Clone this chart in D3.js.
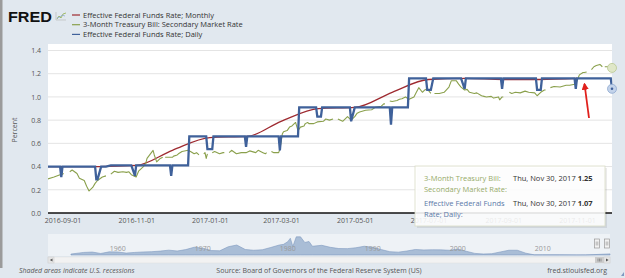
<!DOCTYPE html>
<html lang="en">
<head>
  <meta charset="utf-8">
  <title>FRED - Fed Funds vs 3-Month T-Bill</title>
  <style>
    body {
      margin:0;
      background-color:#e1e8ef;
      font-family:"Open Sans", sans-serif;
    }
    svg { display:block; }
    .axis .domain { display:none; }
    .axis text { fill:#555; font-size:7px; font-family:"Open Sans", sans-serif; }
    .legend text { fill:#333; font-size:7.5px; }
    .foot { fill:#555; font-size:7px; }
    .tip { font-size:7.5px; }
  </style>
</head>
<body>
  <svg id="chart" width="625" height="278"></svg>
  <script src="https://d3js.org/d3.v7.min.js"></script>
  <script>
    // series
    var effrMonthly = [
      ["2016-08-01",0.40],["2016-09-01",0.40],["2016-10-01",0.40],["2016-11-01",0.41],
      ["2016-12-01",0.54],["2017-01-01",0.65],["2017-02-01",0.66],["2017-03-01",0.79],
      ["2017-04-01",0.90],["2017-05-01",0.91],["2017-06-01",1.04],["2017-07-01",1.15],
      ["2017-08-01",1.16],["2017-09-01",1.15],["2017-10-01",1.15],["2017-11-01",1.16]
    ];

    var effrDaily = [
      ["2016-08-19",0.40],["2016-08-30",0.40],["2016-08-31",0.31],["2016-09-01",0.40],
      ["2016-09-28",0.40],["2016-09-29",0.29],["2016-09-30",0.29],["2016-10-03",0.40],
      ["2016-10-07",0.40],["2016-10-11",0.41],
      ["2016-10-28",0.41],["2016-10-31",0.32],["2016-11-01",0.41],
      ["2016-11-29",0.41],["2016-11-30",0.32],["2016-12-01",0.41],
      ["2016-12-14",0.41],["2016-12-15",0.66],
      ["2016-12-29",0.66],["2016-12-30",0.55],["2017-01-03",0.55],["2017-01-04",0.66],
      ["2017-01-30",0.66],["2017-01-31",0.57],["2017-02-01",0.66],
      ["2017-02-27",0.66],["2017-02-28",0.54],["2017-03-01",0.66],
      ["2017-03-15",0.66],["2017-03-16",0.91],
      ["2017-03-30",0.91],["2017-03-31",0.83],["2017-04-03",0.83],["2017-04-04",0.91],
      ["2017-04-27",0.91],["2017-04-28",0.79],["2017-05-01",0.91],
      ["2017-05-30",0.91],["2017-05-31",0.76],["2017-06-01",0.91],
      ["2017-06-14",0.91],["2017-06-15",1.16],
      ["2017-06-29",1.16],["2017-06-30",1.06],["2017-07-03",1.06],["2017-07-05",1.16],
      ["2017-07-28",1.16],["2017-07-31",1.07],["2017-08-01",1.16],
      ["2017-08-30",1.16],["2017-08-31",1.07],["2017-09-01",1.16],
      ["2017-09-28",1.16],["2017-09-29",1.06],["2017-10-02",1.06],["2017-10-03",1.16],
      ["2017-10-30",1.16],["2017-10-31",1.07],["2017-11-01",1.16],
      ["2017-11-29",1.16],["2017-11-30",1.07]
    ];

    // null = market holiday (gap in the line)
    var tbill3m = [
      ["2016-08-19",0.29],["2016-08-25",0.31],["2016-08-30",0.33],["2016-08-31",0.33],["2016-09-02",0.34],
      ["2016-09-05",null],["2016-09-07",0.355],["2016-09-09",0.37],["2016-09-13",0.34],["2016-09-15",0.30],
      ["2016-09-19",0.28],["2016-09-21",0.23],["2016-09-23",0.19],["2016-09-26",0.22],["2016-09-28",0.255],
      ["2016-09-30",0.28],["2016-10-04",0.31],["2016-10-07",0.32],["2016-10-10",null],["2016-10-11",0.335],
      ["2016-10-14",0.36],["2016-10-17",0.35],["2016-10-21",0.355],["2016-10-24",0.35],["2016-10-26",0.355],
      ["2016-10-28",0.33],["2016-11-01",0.31],["2016-11-03",0.36],["2016-11-07",0.40],["2016-11-09",0.43],
      ["2016-11-10",0.47],["2016-11-15",0.54],["2016-11-16",0.50],["2016-11-18",0.44],["2016-11-21",0.47],
      ["2016-11-23",0.48],["2016-11-24",null],["2016-11-25",0.48],["2016-11-29",0.48],["2016-12-01",0.48],
      ["2016-12-02",0.49],["2016-12-05",0.50],["2016-12-06",0.51],["2016-12-09",0.53],["2016-12-14",0.54],
      ["2016-12-16",0.53],["2016-12-19",0.51],["2016-12-21",0.52],["2016-12-23",0.50],["2016-12-26",null],
      ["2016-12-27",0.51],["2016-12-28",0.52],["2016-12-29",0.47],["2016-12-30",0.51],["2017-01-02",null],
      ["2017-01-03",0.52],["2017-01-05",0.53],["2017-01-09",0.51],["2017-01-12",0.52],["2017-01-13",0.52],
      ["2017-01-16",null],["2017-01-17",0.52],["2017-01-19",0.54],["2017-01-23",0.51],["2017-01-27",0.52],
      ["2017-01-31",0.52],["2017-02-03",0.535],["2017-02-08",0.52],["2017-02-10",0.54],["2017-02-14",0.52],
      ["2017-02-16",0.51],["2017-02-17",0.52],["2017-02-20",null],["2017-02-21",0.53],["2017-02-23",0.52],
      ["2017-02-27",0.52],["2017-02-28",0.55],["2017-03-01",0.61],["2017-03-02",0.68],["2017-03-03",0.70],
      ["2017-03-06",0.71],["2017-03-08",0.74],["2017-03-10",0.75],["2017-03-13",0.78],["2017-03-15",0.71],
      ["2017-03-17",0.74],["2017-03-20",0.75],["2017-03-21",0.77],["2017-03-23",0.78],["2017-03-24",0.77],
      ["2017-03-28",0.77],["2017-03-31",0.785],["2017-04-05",0.79],["2017-04-07",0.81],["2017-04-10",0.80],
      ["2017-04-13",0.81],["2017-04-14",null],["2017-04-17",0.81],["2017-04-21",0.79],["2017-04-25",0.83],
      ["2017-04-28",0.80],["2017-05-01",0.83],["2017-05-03",0.86],["2017-05-05",0.87],["2017-05-10",0.885],
      ["2017-05-15",0.89],["2017-05-18",0.91],["2017-05-23",0.92],["2017-05-25",0.94],["2017-05-26",0.94],
      ["2017-05-29",null],["2017-05-30",0.965],["2017-06-01",0.96],["2017-06-05",0.97],["2017-06-07",0.98],
      ["2017-06-09",0.985],["2017-06-12",1.00],["2017-06-15",0.98],["2017-06-19",1.00],["2017-06-21",1.04],
      ["2017-06-23",1.08],["2017-06-26",1.04],["2017-06-28",1.06],["2017-06-30",1.07],["2017-07-03",1.03],
      ["2017-07-04",null],["2017-07-06",1.03],["2017-07-10",1.03],["2017-07-14",1.04],["2017-07-18",1.085],
      ["2017-07-20",1.14],["2017-07-24",1.14],["2017-07-26",1.11],["2017-07-28",1.085],["2017-07-31",1.06],
      ["2017-08-02",1.065],["2017-08-04",1.04],["2017-08-08",1.03],["2017-08-10",1.035],["2017-08-14",1.01],
      ["2017-08-16",1.005],["2017-08-18",1.00],["2017-08-22",1.005],["2017-08-24",0.99],["2017-08-28",1.00],
      ["2017-08-29",0.975],["2017-08-31",1.00],["2017-09-01",1.00],["2017-09-04",null],["2017-09-06",1.04],
      ["2017-09-08",1.03],["2017-09-11",1.04],["2017-09-15",1.035],["2017-09-19",1.05],["2017-09-22",1.04],
      ["2017-09-27",1.035],["2017-09-29",1.01],["2017-10-02",1.04],["2017-10-05",1.06],["2017-10-06",1.06],
      ["2017-10-09",null],["2017-10-10",1.08],["2017-10-13",1.09],["2017-10-18",1.085],["2017-10-23",1.10],
      ["2017-10-26",1.10],["2017-10-30",1.11],["2017-10-31",1.11],["2017-11-01",1.14],["2017-11-03",1.19],
      ["2017-11-06",1.21],["2017-11-07",1.21],["2017-11-09",1.215],["2017-11-10",null],["2017-11-13",1.235],
      ["2017-11-15",1.26],["2017-11-17",1.27],["2017-11-20",1.28],["2017-11-22",1.26],["2017-11-23",null],
      ["2017-11-24",1.26],["2017-11-27",1.26],["2017-11-28",1.27],["2017-11-29",1.26],["2017-11-30",1.25]
    ];

    // navigator: long history of the fed funds rate
    var navYears  = [1954.5,1956,1957,1958,1959,1960,1961,1962,1963,1964,1965,1966,1967,1968,1969,1970,1971,1972,1973,1974,1975,1976,1977,1978,1979,1979.5,1980,1980.3,1980.6,1981,1981.5,1982,1982.5,1982.9,1984,1985,1986,1987,1988,1989,1990,1991,1992,1993,1994,1995,1996,1997,1998,1999,2000,2001,2002,2003,2004,2005,2006,2007,2008,2009,2010,2012,2014,2015,2016,2017.9];
    var navValues = [1.0,2.7,3.1,1.6,3.3,3.2,2.0,2.7,3.2,3.5,4.1,5.1,4.2,5.7,8.2,7.2,4.7,4.4,8.7,10.5,5.8,5.0,5.5,7.9,10.5,11.2,14.0,17.6,9.0,19.1,19.1,13.2,14.2,9.2,10.2,8.1,6.8,6.7,7.6,9.2,8.1,5.7,3.5,3.0,4.2,5.8,5.3,5.5,5.4,5.0,6.2,3.9,1.7,1.1,1.35,3.2,5.0,5.0,1.9,0.16,0.18,0.14,0.09,0.13,0.4,1.16];
    var navLabels = [1960,1970,1980,1990,2000,2010];

    var yTicks = [0,0.2,0.4,0.6,0.8,1.0,1.2,1.4];
    var xTicks = ["2016-09-01","2016-11-01","2017-01-01","2017-03-01","2017-05-01","2017-07-01","2017-09-01","2017-11-01"];

    var legendNames = ["Effective Federal Funds Rate; Monthly","3-Month Treasury Bill: Secondary Market Rate","Effective Federal Funds Rate; Daily"];
    var colRed = "#9e2a30", colGreen = "#8aa04c", colBlue = "#3f619a";

    var parse = d3.timeParse("%Y-%m-%d");
    var svg = d3.select("#chart");

    // left window border
    svg.append("rect").attr("x",0).attr("y",0).attr("width",2.5).attr("height",268).attr("fill","#9b9b9b");

    // header
    svg.append("text").attr("x",8).attr("y",21.5)
        .attr("font-family","Liberation Sans, Arial, sans-serif").attr("font-weight",900)
        .attr("font-size",14.5).attr("textLength",44).attr("lengthAdjust","spacingAndGlyphs")
        .attr("fill","#111").text("FRED");
    var icon = svg.append("g").attr("transform","translate(56,11)");
    icon.append("path").attr("d","M0,9 L10,9 M0,9 L0,1").attr("stroke","#bbb").attr("fill","none").attr("stroke-width",0.7);
    icon.append("path").attr("d","M1,8 L3,5 L5,7 L7,3 L10,2").attr("stroke","#9bb55a").attr("fill","none").attr("stroke-width",0.9);
    icon.append("path").attr("d","M1,7 L4,6 L6,4 L9,5").attr("stroke","#8aa6cf").attr("fill","none").attr("stroke-width",0.7);

    var legend = svg.append("g").attr("class","legend");
    [colRed, colGreen, colBlue].forEach(function(c, i){
      var ly = 15 + i * 9.7;
      legend.append("line").attr("x1",72).attr("x2",80).attr("y1",ly).attr("y2",ly)
          .attr("stroke",c).attr("stroke-width",1.2);
      legend.append("text").attr("x",83).attr("y",ly + 2.6).text(legendNames[i]);
    });

    // plot area
    var x = d3.scaleTime().domain([parse("2016-08-20"), parse("2017-11-30")]).range([48, 612]);
    var y = d3.scaleLinear().domain([0, 1.4]).range([213, 50.5]);

    svg.append("rect").attr("x",48).attr("y",44).attr("width",564).attr("height",169).attr("fill","#fff");

    svg.append("defs").append("clipPath").attr("id","clip")
      .append("rect").attr("x",48).attr("y",44).attr("width",564.5).attr("height",175);

    svg.append("g").selectAll("line").data(yTicks.slice(1)).enter().append("line")
        .attr("x1",48).attr("x2",612)
        .attr("y1",function(d){ return y(d); }).attr("y2",function(d){ return y(d); })
        .attr("stroke","#e4e4e4").attr("stroke-width",1);

    var yAxis = svg.append("g").attr("class","axis").attr("transform","translate(41,0)")
        .call(d3.axisLeft(y).tickValues(yTicks).tickSize(0).tickPadding(0).tickFormat(d3.format(".1f")));

    svg.append("text").attr("transform","translate(17,130) rotate(-90)")
        .attr("text-anchor","middle").attr("font-size",7).attr("fill","#555").text("Percent");

    var xAxis = svg.append("g").attr("class","axis").attr("transform","translate(0,216)")
        .call(d3.axisBottom(x).tickValues(xTicks.map(parse)).tickSize(0).tickPadding(2)
          .tickFormat(d3.timeFormat("%Y-%m-%d")));

    var plot = svg.append("g").attr("clip-path","url(#clip)");

    var line = d3.line()
        .defined(function(d){ return d[1] !== null; })
        .x(function(d){ return x(parse(d[0])); })
        .y(function(d){ return y(d[1]); });

    plot.append("path").datum(effrMonthly).attr("d",line.curve(d3.curveMonotoneX))
        .attr("fill","none").attr("stroke",colRed).attr("stroke-width",1.3);
    line.curve(d3.curveLinear);
    plot.append("path").datum(tbill3m).attr("d",line)
        .attr("fill","none").attr("stroke",colGreen).attr("stroke-width",1.1).attr("stroke-linejoin","round");
    plot.append("path").datum(effrDaily).attr("d",line)
        .attr("fill","none").attr("stroke",colBlue).attr("stroke-width",2.3);

    // x axis baseline
    svg.append("line").attr("x1",48).attr("x2",612).attr("y1",213).attr("y2",213)
        .attr("stroke","#111").attr("stroke-width",1.6);

    // hover markers at the last point
    var lastG = tbill3m[tbill3m.length - 1], lastB = effrDaily[effrDaily.length - 1];
    svg.append("circle").attr("cx",x(parse(lastG[0]))).attr("cy",y(lastG[1])).attr("r",4.5)
        .attr("fill","#dfe7c8").attr("stroke","#b9c890").attr("stroke-width",0.8);
    svg.append("circle").attr("cx",x(parse(lastB[0]))).attr("cy",y(lastB[1])).attr("r",4.5)
        .attr("fill","#c3d3ea").attr("stroke","#8ea8cf").attr("stroke-width",0.8);
    svg.append("circle").attr("cx",x(parse(lastB[0]))).attr("cy",y(lastB[1])).attr("r",1.3).attr("fill",colBlue);

    // red annotation arrow
    svg.append("defs").append("marker").attr("id","arr").attr("viewBox","0 0 10 10")
        .attr("refX",8).attr("refY",5).attr("markerWidth",4).attr("markerHeight",4).attr("orient","auto")
      .append("path").attr("d","M0,0 L10,5 L0,10 z").attr("fill","#e0201c");
    svg.append("line").attr("x1",589).attr("y1",118).attr("x2",584.5).attr("y2",84)
        .attr("stroke","#e0201c").attr("stroke-width",1.8).attr("marker-end","url(#arr)");

    // tooltip
    var tip = svg.append("g").attr("class","tip");
    tip.append("rect").attr("x",417).attr("y",168).attr("width",190).attr("height",60)
        .attr("fill","#000").attr("opacity",0.08);
    tip.append("rect").attr("x",415).attr("y",166).attr("width",190).attr("height",60)
        .attr("fill","#fff").attr("fill-opacity",0.88).attr("stroke","#d9dcc6").attr("stroke-width",0.8);
    var tipRows = [
      {name:["3-Month Treasury Bill:","Secondary Market Rate:"], col:"#97ab6a", val:lastG[1], y:181},
      {name:["Effective Federal Funds","Rate; Daily:"], col:"#5b79a8", val:lastB[1], y:206}
    ];
    tipRows.forEach(function(r){
      r.name.forEach(function(t, j){
        tip.append("text").attr("x",424).attr("y",r.y + j * 10.5).attr("fill",r.col).text(t);
      });
      var tt = tip.append("text").attr("x",513).attr("y",r.y).attr("fill","#333");
      tt.append("tspan").text("Thu, Nov 30, 2017 ");
      tt.append("tspan").attr("font-weight","bold").text(d3.format(".2f")(r.val));
    });

    // navigator
    var nx = d3.scaleLinear().domain([1951.8, 2017.9]).range([48, 610]);
    var ny = d3.scaleLinear().domain([0, 20]).range([255, 236]);
    svg.append("rect").attr("x",48).attr("y",234).attr("width",562).attr("height",22).attr("fill","#eef2f6");
    svg.append("path").datum(navYears)
        .attr("d", d3.area().x(function(d){ return nx(d); }).y0(255)
          .y1(function(d, i){ return ny(navValues[i]); }))
        .attr("fill","#a9bdd6").attr("stroke","#7d98c0").attr("stroke-width",0.6);
    svg.append("g").selectAll("text").data(navLabels).enter().append("text")
        .attr("x",function(d){ return nx(d); }).attr("y",251).attr("text-anchor","middle")
        .attr("font-size",7).attr("fill","#999").text(function(d){ return d; });
    [597, 607].forEach(function(hx){
      svg.append("rect").attr("x",hx - 2.5).attr("y",239).attr("width",5).attr("height",9)
          .attr("fill","#f2f2f2").attr("stroke","#999").attr("stroke-width",0.7);
      svg.append("line").attr("x1",hx - 0.8).attr("x2",hx - 0.8).attr("y1",241.5).attr("y2",245.5).attr("stroke","#777").attr("stroke-width",0.5);
      svg.append("line").attr("x1",hx + 0.8).attr("x2",hx + 0.8).attr("y1",241.5).attr("y2",245.5).attr("stroke","#777").attr("stroke-width",0.5);
    });
    // scrollbar
    svg.append("rect").attr("x",48).attr("y",257).attr("width",562).attr("height",6).attr("fill","#f2f2f2").attr("stroke","#ddd").attr("stroke-width",0.5);
    svg.append("rect").attr("x",48).attr("y",257).attr("width",6).attr("height",6).attr("fill","#e6e6e6").attr("stroke","#ccc").attr("stroke-width",0.5);
    svg.append("path").attr("d","M52.5,258.5 L49.8,260 L52.5,261.5 z").attr("fill","#555");
    svg.append("rect").attr("x",595).attr("y",257).attr("width",9).attr("height",6).attr("fill","#ccc");
    svg.append("rect").attr("x",604).attr("y",257).attr("width",6).attr("height",6).attr("fill","#e6e6e6").attr("stroke","#ccc").attr("stroke-width",0.5);
    svg.append("path").attr("d","M606,258.5 L608.7,260 L606,261.5 z").attr("fill","#555");
    [598, 599.5, 601].forEach(function(gx){
      svg.append("line").attr("x1",gx).attr("x2",gx).attr("y1",258.5).attr("y2",261.5).attr("stroke","#555").attr("stroke-width",0.5);
    });

    // footer
    svg.append("text").attr("class","foot").attr("x",19).attr("y",273).attr("font-style","italic")
        .text("Shaded areas indicate U.S. recessions");
    svg.append("text").attr("class","foot").attr("x",319).attr("y",273).attr("text-anchor","middle")
        .text("Source: Board of Governors of the Federal Reserve System (US)");
    svg.append("text").attr("class","foot").attr("x",607).attr("y",273).attr("text-anchor","end")
        .text("fred.stlouisfed.org");
    svg.append("path").attr("d","M621,276 L624,272 L624,276 z").attr("fill","#7d98c0");
  </script>
</body>
</html>
